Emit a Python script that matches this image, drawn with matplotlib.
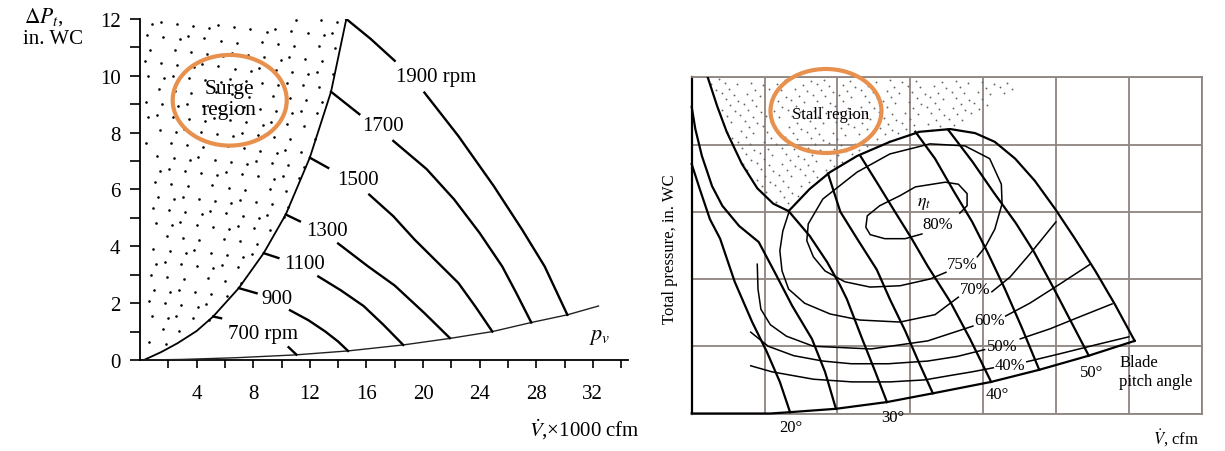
import numpy as np
import matplotlib.pyplot as plt
from matplotlib.patches import Ellipse
from matplotlib.path import Path

plt.rcParams['font.family'] = ['Liberation Serif', 'DejaVu Serif']
plt.rcParams['mathtext.fontset'] = 'stix'

orange = '#e8914f'
gridc = '#8f8580'

# ---------------- left chart: fan speed curves (x in 1000 cfm, y in in. WC)
surge_x = [0.28, 1.5, 2.65, 4.0, 5.17, 6.98, 8.74, 10.3, 12.0, 13.5, 14.58]
surge_y = [0.0, 0.28, 0.59, 1.02, 1.53, 2.53, 3.76, 5.12, 7.12, 9.44, 12.0]

pv_x = [0.28, 3.0, 6.8, 11.0, 14.7, 18.6, 21.9, 24.9, 27.65, 30.2, 32.4]
pv_y = [0.0, 0.02, 0.08, 0.18, 0.32, 0.53, 0.76, 1.0, 1.32, 1.59, 1.9]

rpm_labels = ['1900 rpm', '1700', '1500', '1300', '1100', '900', '700 rpm']
rpm_label_x = [20.95, 17.2, 15.4, 13.2, 11.6, 9.7, 8.66]
rpm_label_y = [9.98, 8.24, 6.35, 4.55, 3.41, 2.18, 0.92]

# short piece leaving the surge line (before the label)
rpm_head_x = [[14.58, 16.3, 18.0], [13.5, 15.5], [12.0, 13.3], [10.3, 11.3],
              [8.74, 9.78], [6.98, 8.24], [5.17, 5.73]]
rpm_head_y = [[12.0, 11.3, 10.53], [9.44, 8.65], [7.12, 6.76], [5.12, 4.88],
              [3.76, 3.59], [2.53, 2.35], [1.53, 1.47]]
# rest of each curve down to the velocity-pressure line
rpm_tail_x = [[20.1, 22.5, 25.0, 27.0, 28.6, 30.2],
              [17.9, 20.25, 22.2, 24.0, 25.6, 26.6, 27.65],
              [16.2, 17.9, 19.4, 21.0, 22.5, 23.7, 24.9],
              [14.0, 16.1, 18.0, 20.1, 21.9],
              [12.6, 14.2, 15.8, 17.2, 18.6],
              [10.6, 11.9, 13.1, 14.0, 14.7],
              [10.5, 11.05]]
rpm_tail_y = [[9.41, 7.88, 6.12, 4.59, 3.29, 1.59],
              [7.71, 6.72, 5.65, 4.47, 3.29, 2.35, 1.32],
              [5.82, 5.06, 4.24, 3.45, 2.71, 1.88, 1.0],
              [4.1, 3.3, 2.62, 1.65, 0.77],
              [2.94, 2.45, 1.9, 1.24, 0.53],
              [1.75, 1.4, 1.0, 0.65, 0.32],
              [0.45, 0.19]]

x_ticks = list(range(2, 35, 2))
y_ticks = list(range(0, 13))

# ---------------- right chart: axial fan map (grid units)
stall_x = [0.22, 0.35, 0.48, 0.69, 0.90, 1.12, 1.33]
stall_y = [5.0, 4.57, 4.19, 3.71, 3.35, 3.12, 3.01]
env_x = [1.33, 1.62, 1.90, 2.27, 2.72, 3.13, 3.55, 3.89, 4.16, 4.44, 4.71,
         4.99, 5.26, 5.54, 5.81, 6.08]
env_y = [3.01, 3.34, 3.59, 3.83, 4.04, 4.19, 4.23, 4.17, 4.04, 3.79, 3.46,
         3.04, 2.60, 2.12, 1.62, 1.08]
stall_edge_x = [3.68, 4.09, 4.64]
stall_edge_y = [4.31, 4.57, 4.97]

bottom_x = [0, 1.08, 1.35, 1.98, 2.68, 3.31, 4.11, 4.77, 5.45, 6.08]
bottom_y = [0, 0, 0.02, 0.07, 0.17, 0.30, 0.47, 0.65, 0.86, 1.08]

blade_x = [
    [0.0, 0.11, 0.25, 0.39, 0.59, 0.83, 1.03, 1.21, 1.35],
    [0.0, 0.05, 0.14, 0.28, 0.42, 0.65, 0.92, 1.14, 1.38, 1.65, 1.83, 1.98],
    [1.33, 1.62, 1.86, 2.04, 2.13, 2.34, 2.52, 2.68],
    [1.87, 2.04, 2.27, 2.54, 2.72, 2.93, 3.11, 3.31],
    [2.31, 2.54, 2.79, 3.02, 3.24, 3.55, 3.82, 4.11],
    [3.07, 3.34, 3.60, 3.85, 4.05, 4.30, 4.53, 4.77],
    [3.52, 3.85, 4.15, 4.45, 4.70, 4.95, 5.20, 5.45],
]
blade_y = [
    [3.71, 3.34, 2.89, 2.60, 1.96, 1.36, 0.92, 0.47, 0.02],
    [4.56, 4.23, 3.83, 3.38, 3.09, 2.79, 2.55, 2.10, 1.60, 1.11, 0.62, 0.07],
    [3.01, 2.64, 2.25, 1.90, 1.70, 1.11, 0.62, 0.17],
    [3.57, 3.00, 2.60, 2.14, 1.70, 1.23, 0.78, 0.30],
    [3.84, 3.44, 3.00, 2.60, 2.19, 1.66, 1.11, 0.47],
    [4.19, 3.79, 3.30, 2.85, 2.42, 1.85, 1.28, 0.65],
    [4.22, 3.75, 3.28, 2.83, 2.40, 1.90, 1.38, 0.86],
]
angle_labels = ['20°', '30°', '40°', '50°']
angle_label_x = [1.36, 2.76, 4.19, 5.49]
angle_label_y = [-0.20, -0.05, 0.29, 0.62]

# efficiency contours, split where the label sits
eff_x = [
    [3.16, 2.93, 2.65, 2.45, 2.39, 2.41, 2.58, 2.86, 3.07, 3.48, 3.66, 3.78, 3.78, 3.68],
    [3.92, 4.03, 4.16, 4.26, 4.25, 4.09, 3.75, 3.27, 2.72, 2.27, 1.80, 1.60, 1.58,
     1.67, 1.83, 2.10, 2.45, 2.86, 3.27, 3.49],
    [1.33, 1.25, 1.21, 1.24, 1.33, 1.55, 1.90, 2.31, 2.86, 3.34, 3.66],
    [4.12, 4.37, 4.64, 5.00],
    [0.90, 0.91, 0.95, 1.08, 1.30, 1.67, 2.46, 3.24, 3.86],
    [4.31, 4.64, 5.06, 5.47],
    [0.81, 1.05, 1.40, 1.80, 2.19, 2.70, 3.24, 3.65, 4.02],
    [4.51, 4.92, 5.33, 5.77],
    [0.81, 1.10, 1.67, 2.20, 2.72, 3.20, 3.52, 3.85, 4.14],
    [4.60, 5.06, 5.54, 6.00],
]
eff_y = [
    [2.67, 2.60, 2.60, 2.66, 2.77, 2.94, 3.09, 3.24, 3.37, 3.44, 3.41, 3.27, 3.09, 2.98],
    [2.33, 2.48, 2.74, 3.12, 3.41, 3.79, 3.98, 4.01, 3.86, 3.59, 3.19, 2.82, 2.57,
     2.33, 2.12, 1.96, 1.88, 1.90, 2.00, 2.10],
    [2.98, 2.71, 2.42, 2.12, 1.85, 1.64, 1.48, 1.39, 1.36, 1.47, 1.73],
    [1.81, 2.03, 2.37, 2.85],
    [2.22, 1.85, 1.55, 1.32, 1.15, 1.00, 0.96, 1.08, 1.30],
    [1.45, 1.64, 1.93, 2.22],
    [1.21, 1.00, 0.86, 0.78, 0.74, 0.74, 0.78, 0.85, 0.95],
    [1.11, 1.26, 1.44, 1.63],
    [0.71, 0.62, 0.51, 0.47, 0.47, 0.50, 0.56, 0.62, 0.68],
    [0.77, 0.89, 1.02, 1.14],
]
eff_labels = ['80%', '75%', '70%', '60%', '50%', '40%']
eff_label_x = [3.38, 3.71, 3.89, 4.09, 4.26, 4.37]
eff_label_y = [2.82, 2.22, 1.85, 1.39, 1.00, 0.72]


def stipple(ax, xs, ys, n, color, size):
    # even, irregular-looking dot texture (R2 low-discrepancy sequence) inside a polygon
    g = 1.32471795724474602596
    k = np.arange(1, n + 1)
    u = (0.37 + k / g) % 1
    v = (0.61 + k / g ** 2) % 1
    x0, x1, y0, y1 = min(xs), max(xs), min(ys), max(ys)
    px = x0 + u * (x1 - x0)
    py = y0 + v * (y1 - y0)
    poly = Path(np.column_stack([xs, ys]))
    inside = poly.contains_points(np.column_stack([px, py]))
    ax.scatter(px[inside], py[inside], s=size, color=color, linewidths=0, zorder=1)


fig = plt.figure(figsize=(12.25, 4.52), dpi=100)

# ================= left chart
ax = fig.add_axes([0.11429, 0.20133, 0.39853, 0.75442])
ax.set_xlim(0, 34.5)
ax.set_ylim(0, 12)
for s in ['top', 'right']:
    ax.spines[s].set_visible(False)
for s in ['left', 'bottom']:
    ax.spines[s].set_linewidth(1.3)

ax.set_xticks(x_ticks)
ax.set_xticklabels([str(v) if v % 4 == 0 and v <= 32 else '' for v in x_ticks])
ax.set_yticks(y_ticks)
ax.set_yticklabels([str(v) if v % 2 == 0 else '' for v in y_ticks])
ax.tick_params(axis='x', direction='out', length=6, width=1.2, labelsize=15, pad=11)
ax.tick_params(axis='y', direction='out', length=7, width=1.2, labelsize=15, pad=7)

# surge (dotted) region
stipple(ax, [0.35] + surge_x[1:] + [0.35], [0.3] + surge_y[1:-1] + [12.0, 12.0],
        330, 'black', 3.5)
ax.plot(surge_x, surge_y, color='black', lw=1.3, zorder=3)
ax.plot(pv_x, pv_y, color='#222222', lw=1.0, zorder=3)

for i in range(len(rpm_labels)):
    ax.plot(rpm_head_x[i], rpm_head_y[i], color='black', lw=1.7, zorder=3)
    ax.plot(rpm_tail_x[i], rpm_tail_y[i], color='black', lw=1.7, zorder=3)
    ax.text(rpm_label_x[i], rpm_label_y[i], rpm_labels[i], fontsize=15,
            ha='center', va='center')

ax.add_patch(Ellipse((6.34, 9.14), 8.06, 3.19, fill=False, edgecolor=orange,
                     lw=3.0, zorder=4))
ax.text(6.3, 9.2, 'Surge\nregion', fontsize=15.5, ha='center', va='center',
        linespacing=1.15, zorder=5)
ax.text(32.5, 0.81, r'$p_v$', fontsize=16, ha='center', va='center')
ax.text(31.4, -2.43, r'$\dot{V}$,×1000 cfm', fontsize=15, ha='center',
        va='center', clip_on=False)
ax.text(-6.82, 12.12, r'$\mathit{\Delta P_t}$,', fontsize=15.5, ha='center',
        va='center', clip_on=False)
ax.text(-6.18, 11.3, 'in. WC', fontsize=15, ha='center', va='center',
        clip_on=False)

# ================= right chart
ax2 = fig.add_axes([0.56465, 0.08296, 0.41633, 0.74381])
ax2.set_xlim(0, 7)
ax2.set_ylim(0, 5)
ax2.set_xticks(range(8))
ax2.set_yticks(range(6))
ax2.set_xticklabels([])
ax2.set_yticklabels([])
ax2.tick_params(length=0)
ax2.grid(True, color=gridc, lw=1.3)
ax2.set_axisbelow(True)
for s in ['top', 'right', 'bottom']:
    ax2.spines[s].set_color(gridc)
    ax2.spines[s].set_linewidth(1.3)
ax2.spines['left'].set_linewidth(1.6)

# stall region
reg_x = [stall_x[0]] + stall_x + env_x[1:7] + stall_edge_x
reg_y = [4.97] + stall_y + env_y[1:7] + stall_edge_y
stipple(ax2, reg_x, reg_y, 560, '#666666', 1.8)

ax2.plot(stall_x, stall_y, color='black', lw=1.6, zorder=3)
ax2.plot(env_x, env_y, color='black', lw=1.6, zorder=3, clip_on=False)
ax2.plot(bottom_x, bottom_y, color='black', lw=1.6, zorder=3, clip_on=False)
for bx, by in zip(blade_x, blade_y):
    ax2.plot(bx, by, color='black', lw=1.6, zorder=3, clip_on=False)
for ex, ey in zip(eff_x, eff_y):
    ax2.plot(ex, ey, color='black', lw=1.1, zorder=3)

for i in range(len(eff_labels)):
    ax2.text(eff_label_x[i], eff_label_y[i], eff_labels[i], fontsize=12,
             ha='center', va='center', zorder=5)
ax2.text(3.19, 3.14, r'$\eta_t$', fontsize=13, ha='center', va='center', zorder=5)

for i in range(len(angle_labels)):
    ax2.text(angle_label_x[i], angle_label_y[i], angle_labels[i], fontsize=12,
             ha='center', va='center', clip_on=False)
ax2.text(5.87, 0.63, 'Blade\npitch angle', fontsize=12, ha='left', va='center',
         linespacing=1.25, clip_on=False)

ax2.add_patch(Ellipse((1.843, 4.499), 1.523, 1.249, fill=False, edgecolor=orange,
                      lw=3.0, zorder=4, clip_on=False))
ax2.text(1.91, 4.45, 'Stall region', fontsize=12, ha='center', va='center', zorder=5)

ax2.text(-0.30, 2.46, 'Total pressure, in. WC', fontsize=12, rotation=90,
         ha='center', va='center', clip_on=False)
ax2.text(6.96, -0.35, r'$\dot{V}$, cfm', fontsize=12, ha='right', va='center',
         clip_on=False)

fig.savefig('out.png', dpi=100)
